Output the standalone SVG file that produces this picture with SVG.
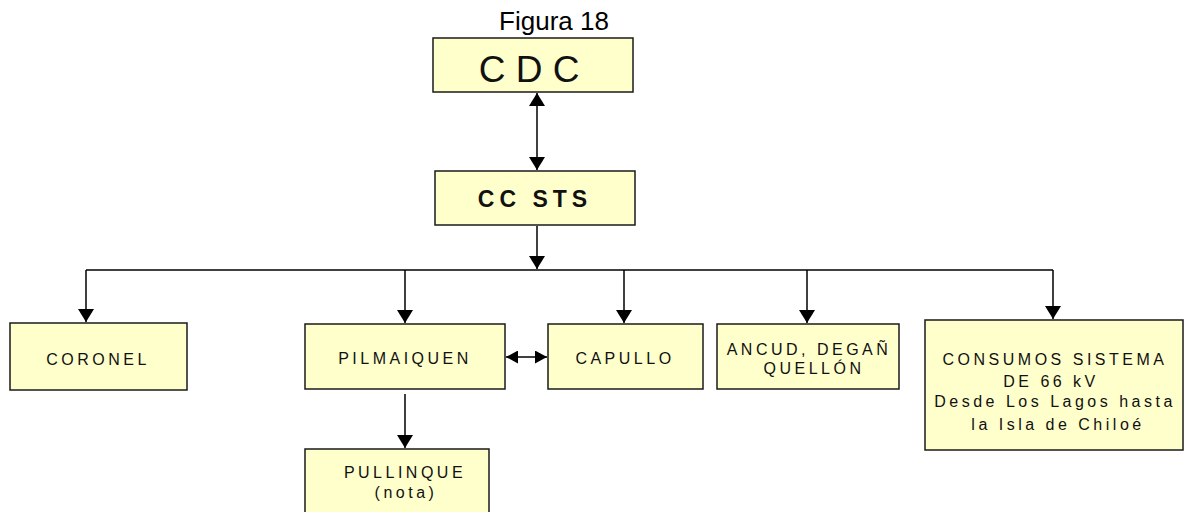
<svg xmlns="http://www.w3.org/2000/svg" width="1184" height="512" viewBox="0 0 1184 512">
<style>
.box{fill:#FFFFCC;stroke:#1a1a1a;stroke-width:1.5}
.t{font-family:"Liberation Sans",Arial,sans-serif;font-size:16px;letter-spacing:3.5px;fill:#111;text-anchor:middle}
.ln{stroke:#000;stroke-width:1.5;fill:none}
</style>
<defs>
<marker id="arr" viewBox="0 0 13 16" markerWidth="13" markerHeight="16" refX="13" refY="8" orient="auto-start-reverse" markerUnits="userSpaceOnUse">
<path d="M0,0 L13,8 L0,16 z" fill="#000"/>
</marker>
<marker id="arrs" viewBox="0 0 12 13" markerWidth="12" markerHeight="13" refX="12" refY="6.5" orient="auto-start-reverse" markerUnits="userSpaceOnUse">
<path d="M0,0 L12,6.5 L0,13 z" fill="#000"/>
</marker>
</defs>
<rect width="1184" height="512" fill="#fff"/>
<text x="554" y="30" style="font-family:'Liberation Sans',Arial,sans-serif;font-size:26px;text-anchor:middle;fill:#000">Figura 18</text>
<g id="connectors">
<line class="ln" x1="537" y1="93" x2="537" y2="170" marker-start="url(#arr)" marker-end="url(#arr)"/>
<line class="ln" x1="537" y1="226" x2="537" y2="269" marker-end="url(#arr)"/>
<line class="ln" x1="86" y1="270" x2="1053" y2="270"/>
<line class="ln" x1="86" y1="270" x2="86" y2="322" marker-end="url(#arr)"/>
<line class="ln" x1="405" y1="270" x2="405" y2="323" marker-end="url(#arr)"/>
<line class="ln" x1="624" y1="270" x2="624" y2="323" marker-end="url(#arr)"/>
<line class="ln" x1="807" y1="270" x2="807" y2="323" marker-end="url(#arr)"/>
<line class="ln" x1="1053" y1="270" x2="1053" y2="319" marker-end="url(#arr)"/>
<line class="ln" x1="506" y1="357" x2="547" y2="357" marker-start="url(#arrs)" marker-end="url(#arrs)"/>
<line class="ln" x1="405" y1="394" x2="405" y2="448" marker-end="url(#arr)"/>
</g>
<g id="cdc">
<rect class="box" x="433" y="38" width="200" height="54"/>
<text x="529" y="82" style="font-family:'Liberation Sans',Arial,sans-serif;font-size:37px;text-anchor:middle;fill:#111">C D C</text>
</g>
<g id="ccsts">
<rect class="box" x="435" y="171" width="200" height="54"/>
<text x="535" y="207" style="font-family:'Liberation Sans',Arial,sans-serif;font-size:23px;font-weight:bold;letter-spacing:5px;text-anchor:middle;fill:#111">CC STS</text>
</g>
<g id="coronel">
<rect class="box" x="10" y="323" width="177" height="67"/>
<text class="t" x="98" y="365">CORONEL</text>
</g>
<g id="pilmaiquen">
<rect class="box" x="305" y="324" width="200" height="65"/>
<text class="t" x="405" y="364">PILMAIQUEN</text>
</g>
<g id="capullo">
<rect class="box" x="548" y="324" width="155" height="65"/>
<text class="t" x="625" y="364">CAPULLO</text>
</g>
<g id="ancud">
<rect class="box" x="717" y="324" width="182" height="65"/>
<text class="t" x="809" y="355">ANCUD, DEGAÑ</text>
<text class="t" x="814" y="374">QUELLÓN</text>
</g>
<g id="consumos">
<rect class="box" x="925" y="320" width="258" height="130"/>
<text class="t" x="1055" y="365">CONSUMOS SISTEMA</text>
<text class="t" x="1051" y="387">DE 66 kV</text>
<text class="t" x="1055" y="407">Desde Los Lagos hasta</text>
<text class="t" x="1058" y="430">la Isla de Chiloé</text>
</g>
<g id="pullinque">
<rect class="box" x="305" y="449" width="184" height="70"/>
<text class="t" x="405" y="478">PULLINQUE</text>
<text class="t" x="406" y="498">(nota)</text>
</g>
</svg>
